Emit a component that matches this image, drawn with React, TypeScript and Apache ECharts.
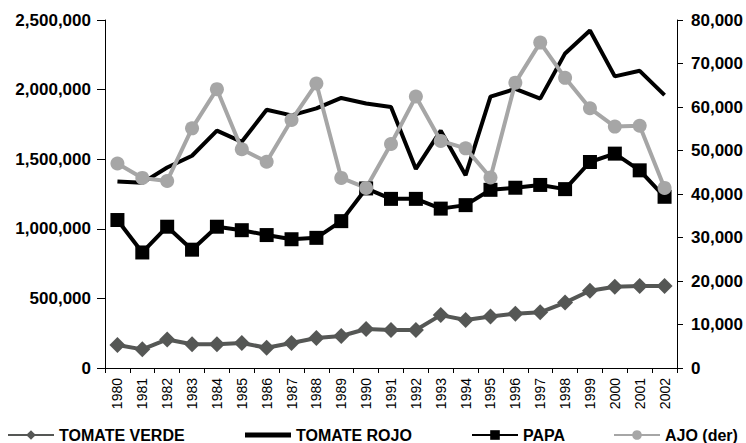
import React, { useEffect, useRef } from "react";
import * as echarts from "echarts";

const years = ["1980","1981","1982","1983","1984","1985","1986","1987","1988","1989","1990","1991","1992","1993","1994","1995","1996","1997","1998","1999","2000","2001","2002"];
const tomateVerde = [165000,134000,205000,170000,170000,180000,145000,180000,215000,230000,280000,273000,273000,380000,345000,370000,390000,400000,470000,555000,584000,589000,589000];
const tomateRojo = [1340000,1330000,1440000,1525000,1705000,1625000,1855000,1815000,1865000,1940000,1900000,1875000,1430000,1705000,1385000,1950000,2005000,1935000,2260000,2425000,2095000,2135000,1960000];
const papa = [1063000,830000,1015000,850000,1015000,990000,955000,925000,935000,1055000,1290000,1215000,1215000,1145000,1170000,1280000,1295000,1315000,1285000,1480000,1540000,1420000,1230000];
const ajo = [47000,43700,43000,55100,64100,50300,47400,57000,65400,43700,41400,51500,62400,52200,50500,43800,65600,74800,66700,59700,55500,55700,41400];

const fmt = (v: number) => v.toLocaleString("en-US");
const FONT = "Liberation Sans, Arial, sans-serif";

export default function App() {
  const ref = useRef<HTMLDivElement>(null);
  useEffect(() => {
    if (!ref.current) return;
    const chart = echarts.init(ref.current, undefined, { renderer: "svg" });
    const legendText = { fontFamily: FONT, fontWeight: "bold" as const, fontSize: 16, color: "#000" };
    const mkLegend = (item: any, left: number, itemHeight = 12) => ({
      data: [item], left, top: 427, itemWidth: 46, itemHeight, itemGap: 5, padding: 0,
      textStyle: legendText, selectedMode: false,
    });
    chart.setOption({
      animation: false,
      backgroundColor: "#fff",
      textStyle: { fontFamily: FONT },
      grid: { left: 105, right: 69, top: 20, bottom: 75 },
      legend: [
        mkLegend("TOMATE VERDE", 7),
        mkLegend({ name: "TOMATE ROJO", icon: "rect" }, 245, 5),
        mkLegend("PAPA", 471),
        mkLegend("AJO (der)", 613),
      ],
      xAxis: {
        type: "category", data: years, boundaryGap: true,
        axisLine: { lineStyle: { color: "#000", width: 1 } },
        axisTick: { show: true, length: 5, lineStyle: { color: "#000" } },
        axisLabel: { rotate: 90, fontSize: 14, color: "#000", fontFamily: FONT, margin: 10, interval: 0 },
      },
      yAxis: [
        {
          type: "value", min: 0, max: 2500000, interval: 500000,
          axisLine: { show: true, lineStyle: { color: "#000" } },
          axisTick: { show: true, length: 8, lineStyle: { color: "#000" } },
          splitLine: { show: false },
          axisLabel: { formatter: fmt, fontSize: 17, fontWeight: "bold", color: "#000", fontFamily: FONT, margin: 14 },
        },
        {
          type: "value", min: 0, max: 80000, interval: 10000, position: "right",
          axisLine: { show: true, lineStyle: { color: "#000" } },
          axisTick: { show: true, length: 6, lineStyle: { color: "#000" } },
          splitLine: { show: false },
          axisLabel: { formatter: fmt, fontSize: 17, fontWeight: "bold", color: "#000", fontFamily: FONT, margin: 14 },
        },
      ],
      series: [
        {
          name: "TOMATE VERDE", type: "line", data: tomateVerde, yAxisIndex: 0,
          symbol: "diamond", symbolSize: 16, showAllSymbol: true,
          lineStyle: { color: "#555755", width: 4 }, itemStyle: { color: "#555755" },
        },
        {
          name: "TOMATE ROJO", type: "line", data: tomateRojo, yAxisIndex: 0,
          symbol: "none",
          lineStyle: { color: "#000", width: 4 }, itemStyle: { color: "#000" },
        },
        {
          name: "PAPA", type: "line", data: papa, yAxisIndex: 0,
          symbol: "rect", symbolSize: 14, showAllSymbol: true,
          lineStyle: { color: "#000", width: 4 }, itemStyle: { color: "#000" },
        },
        {
          name: "AJO (der)", type: "line", data: ajo, yAxisIndex: 1,
          symbol: "circle", symbolSize: 14, showAllSymbol: true,
          lineStyle: { color: "#a6a6a6", width: 4 }, itemStyle: { color: "#a6a6a6" },
        },
      ],
    });
    return () => chart.dispose();
  }, []);
  return <div ref={ref} style={{ width: 746, height: 443, position: "absolute", left: 0, top: 0 }} />;
}
